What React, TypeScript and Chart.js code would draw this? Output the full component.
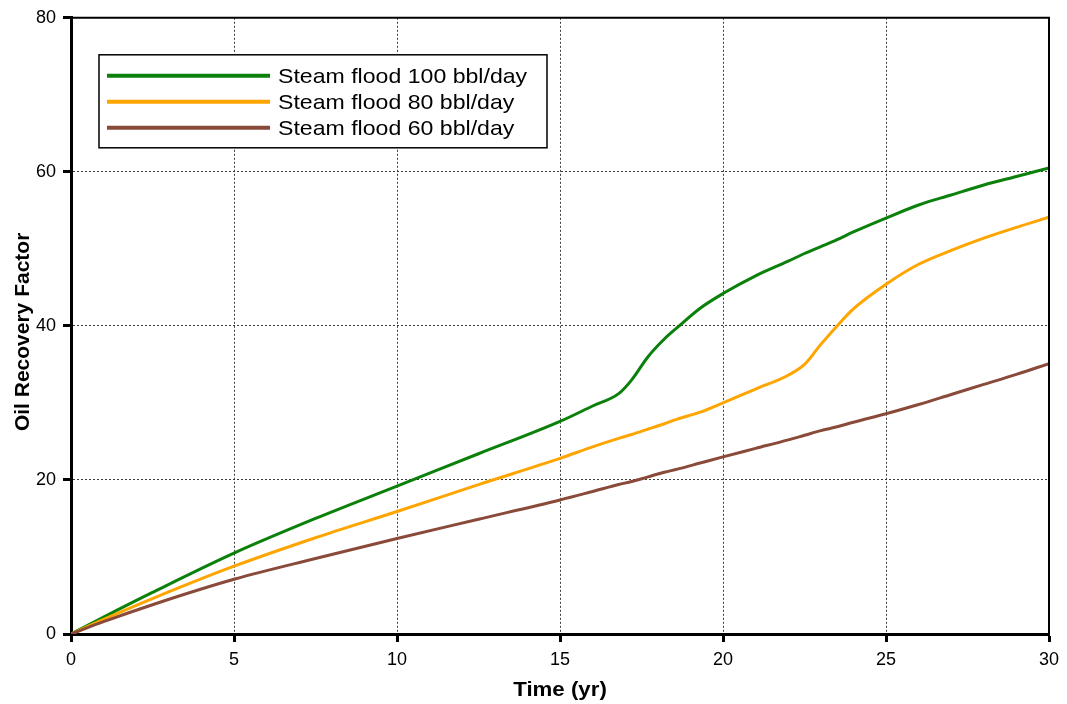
import React, { useEffect, useRef } from "react";
import { Chart, registerables } from "chart.js";

Chart.register(...registerables);

// Simulation time (years)
const timeYears = [0, 1, 2.5, 5, 7.5, 10, 12.5, 15, 16, 16.8, 17.2, 17.7, 18.2, 18.6, 19.3, 20, 21, 22, 22.5, 23, 23.5, 24, 25, 26, 27, 28, 29, 30];

// Oil recovery factor per injection rate
const rf100 = [0, 2.2, 5.4, 10.5, 15.0, 19.2, 23.4, 27.6, 29.6, 31.2, 33.0, 36.0, 38.3, 39.8, 42.3, 44.2, 46.5, 48.4, 49.4, 50.3, 51.2, 52.2, 54.0, 55.7, 57.0, 58.3, 59.4, 60.5];
const rf80 = [0, 1.9, 4.6, 8.8, 12.5, 15.9, 19.4, 22.8, 24.3, 25.4, 25.9, 26.6, 27.3, 27.9, 28.8, 30.0, 31.8, 33.6, 35.0, 37.6, 40.0, 42.2, 45.4, 48.0, 49.8, 51.4, 52.8, 54.1];
const rf60 = [0, 1.6, 3.8, 7.1, 9.8, 12.4, 14.9, 17.4, 18.5, 19.4, 19.8, 20.4, 21.0, 21.4, 22.2, 23.0, 24.1, 25.2, 25.8, 26.4, 26.9, 27.5, 28.6, 29.8, 31.1, 32.4, 33.7, 35.1];

const seriesLabels = ["Steam flood 100 bbl/day", "Steam flood 80 bbl/day", "Steam flood 60 bbl/day"];
const seriesColors = ["#0b800b", "#ffa500", "#8a4a3a"];

const xTitle = "Time (yr)";
const yTitle = "Oil Recovery Factor";

const FONT = "'Liberation Sans', Arial, Helvetica, sans-serif";

const toPoints = (ys: number[]) => timeYears.map((t, i) => ({ x: t, y: ys[i] }));

// Draws the plot frame, axis titles and the boxed legend inside the plot
const decorPlugin = {
  id: "decor",
  afterDraw(chart: any) {
    const { ctx, chartArea: a } = chart;
    ctx.save();

    // top and right frame
    ctx.strokeStyle = "#000";
    ctx.lineWidth = 2;
    ctx.beginPath();
    ctx.moveTo(a.left, a.top);
    ctx.lineTo(a.right, a.top);
    ctx.lineTo(a.right, a.bottom);
    ctx.stroke();

    // axis titles
    ctx.fillStyle = "#000";
    ctx.font = `bold 21px ${FONT}`;
    ctx.textAlign = "center";
    ctx.textBaseline = "middle";
    ctx.save();
    ctx.translate((a.left + a.right) / 2, a.bottom + 56);
    ctx.scale(1.06, 1);
    ctx.fillText(xTitle, 0, 0);
    ctx.restore();

    ctx.save();
    ctx.translate(a.left - 48, (a.top + a.bottom) / 2 + 6);
    ctx.rotate(-Math.PI / 2);
    ctx.fillText(yTitle, 0, 0);
    ctx.restore();

    // legend
    const bx = a.left + 28;
    const by = a.top + 37;
    const bw = 448;
    const bh = 93;
    ctx.fillStyle = "#fff";
    ctx.fillRect(bx, by, bw, bh);
    ctx.strokeStyle = "#000";
    ctx.lineWidth = 1.5;
    ctx.strokeRect(bx, by, bw, bh);

    ctx.font = `21px ${FONT}`;
    ctx.textAlign = "left";
    ctx.textBaseline = "middle";
    seriesLabels.forEach((label, i) => {
      const cy = by + 21 + i * 26;
      ctx.strokeStyle = seriesColors[i];
      ctx.lineWidth = 4;
      ctx.beginPath();
      ctx.moveTo(bx + 8, cy);
      ctx.lineTo(bx + 171, cy);
      ctx.stroke();
      ctx.save();
      ctx.translate(bx + 179, cy + 1);
      ctx.scale(1.1, 1);
      ctx.fillStyle = "#000";
      ctx.fillText(label, 0, 0);
      ctx.restore();
    });

    ctx.restore();
  },
};

export default function App() {
  const canvasRef = useRef<HTMLCanvasElement | null>(null);

  useEffect(() => {
    const canvas = canvasRef.current;
    if (!canvas) return;

    const series = [rf100, rf80, rf60];
    const chart = new Chart(canvas, {
      type: "line",
      data: {
        datasets: series.map((ys, i) => ({
          label: seriesLabels[i],
          data: toPoints(ys),
          borderColor: seriesColors[i],
          backgroundColor: seriesColors[i],
          borderWidth: 3,
          pointRadius: 0,
          cubicInterpolationMode: "monotone" as const,
          order: 2 - i,
        })),
      },
      options: {
        responsive: false,
        animation: false,
        layout: { padding: { top: 16, right: 18, left: 0, bottom: 0 } },
        plugins: {
          legend: { display: false },
          tooltip: { enabled: false },
        },
        scales: {
          x: {
            type: "linear",
            min: 0,
            max: 30,
            ticks: {
              stepSize: 5,
              color: "#000",
              font: { family: FONT, size: 18 },
              padding: 7,
              maxRotation: 0,
            },
            grid: {
              color: "#3a3a3a",
              lineWidth: 1,
              tickColor: "#000",
              tickWidth: 3,
              tickLength: 8,
            },
            border: { display: true, color: "#000", width: 3, dash: [2, 2] },
            afterFit: (scale: any) => {
              scale.height = 70;
            },
          },
          y: {
            type: "linear",
            min: 0,
            max: 80,
            ticks: {
              stepSize: 20,
              color: "#000",
              font: { family: FONT, size: 18 },
              padding: 7,
            },
            grid: {
              color: "#3a3a3a",
              lineWidth: 1,
              tickColor: "#000",
              tickWidth: 3,
              tickLength: 8,
            },
            border: { display: true, color: "#000", width: 3, dash: [2, 2] },
            afterFit: (scale: any) => {
              scale.width = 71;
            },
          },
        },
      },
      plugins: [decorPlugin],
    });

    return () => chart.destroy();
  }, []);

  return (
    <div style={{ position: "absolute", left: 0, top: 0, width: 1067, height: 704, background: "#fff" }}>
      <canvas ref={canvasRef} width={1067} height={704} style={{ display: "block" }} />
    </div>
  );
}
